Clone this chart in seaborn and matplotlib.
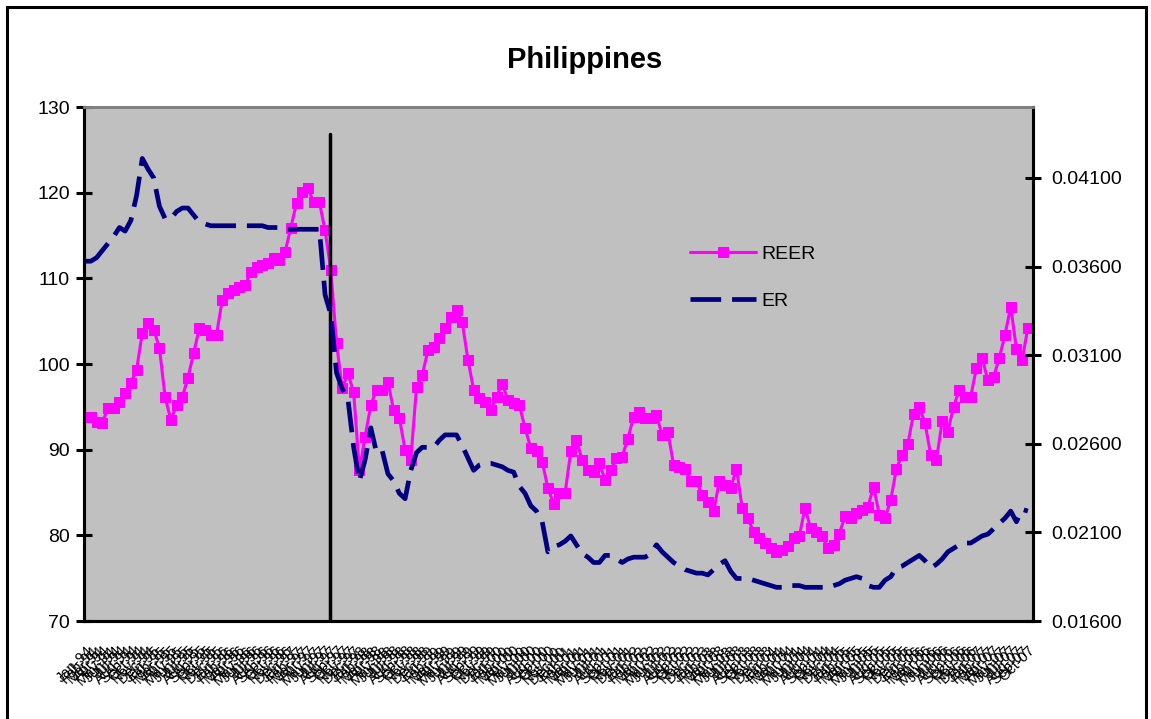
import numpy as np
import pandas as pd
import matplotlib
matplotlib.use("Agg")
import matplotlib.pyplot as plt
import seaborn as sns
from matplotlib.patches import Rectangle

# -----------------------------
# DATA (monthly, Jan-1994 onwards)
# -----------------------------
START_MONTH = "1994-01"

REER = [
    93.8, 93.8, 93.2, 93.1, 94.9, 94.9, 95.6, 96.6, 97.8, 99.3,
    103.6, 104.8, 104.0, 101.9, 96.1, 93.5, 95.2, 96.1, 98.4, 101.3,
    104.2, 104.0, 103.4, 103.4, 107.5, 108.3, 108.6, 109.0, 109.2, 110.7,
    111.3, 111.5, 111.8, 112.4, 112.1, 113.1, 115.9, 118.8, 120.1, 120.5,
    118.9, 118.9, 115.6, 111.0, 102.4, 97.2, 98.9, 96.7, 87.6, 91.5,
    95.2, 97.0, 97.0, 97.9, 94.6, 93.7, 90.0, 88.8, 97.3, 98.7,
    101.6, 102.0, 103.0, 104.2, 105.5, 106.3, 104.9, 100.5, 97.0, 96.0,
    95.6, 94.6, 96.2, 97.7, 95.8, 95.4, 95.2, 92.5, 90.2, 89.8,
    88.6, 85.5, 83.7, 84.9, 84.9, 89.8, 91.1, 88.8, 87.6, 87.4,
    88.4, 86.5, 87.6, 89.0, 89.2, 91.3, 93.8, 94.4, 93.7, 93.7,
    94.0, 91.7, 92.1, 88.2, 88.0, 87.8, 86.3, 86.3, 84.7, 83.9,
    82.8, 86.3, 85.9, 85.5, 87.8, 83.2, 82.0, 80.4, 79.7, 79.1,
    78.5, 78.1, 78.3, 78.7, 79.7, 79.9, 83.2, 80.8, 80.4, 79.9,
    78.5, 78.9, 80.2, 82.2, 82.0, 82.6, 83.0, 83.3, 85.7, 82.4,
    82.0, 84.1, 87.8, 89.4, 90.7, 94.2, 95.0, 93.1, 89.4, 88.8,
    93.3, 92.1, 95.0, 97.0, 96.2, 96.2, 99.5, 100.7, 98.1, 98.5,
    100.7, 103.4, 106.7, 101.8, 100.5, 104.2,
]

ER = [
    0.0363, 0.0363, 0.0365, 0.0369, 0.0373, 0.0377, 0.0382, 0.0380, 0.0386, 0.0400,
    0.0421, 0.0415, 0.0410, 0.0394, 0.0387, 0.0387, 0.0391, 0.0393, 0.0393, 0.0389,
    0.0385, 0.0384, 0.0383, 0.0383, 0.0383, 0.0383, 0.0383, 0.0383, 0.0383, 0.0383,
    0.0383, 0.0383, 0.0382, 0.0382, 0.0382, 0.0381, 0.0381, 0.0381, 0.0381, 0.0381,
    0.0381, 0.0381, 0.0344, 0.0333, 0.0300, 0.0291, 0.0285, 0.0258, 0.0239, 0.0251,
    0.0269, 0.0255, 0.0256, 0.0243, 0.0239, 0.0232, 0.0229, 0.0245, 0.0255, 0.0258,
    0.0258, 0.0258, 0.0262, 0.0265, 0.0265, 0.0265, 0.0259, 0.0252, 0.0245, 0.0248,
    0.0249, 0.0249, 0.0248, 0.0247, 0.0245, 0.0244, 0.0236, 0.0232, 0.0225, 0.0222,
    0.0216, 0.0199, 0.0202, 0.0203, 0.0205, 0.0208, 0.0203, 0.0198, 0.0196, 0.0193,
    0.0193, 0.0197, 0.0197, 0.0195, 0.0193, 0.0195, 0.0196, 0.0196, 0.0196, 0.0198,
    0.0203, 0.0199, 0.0196, 0.0193, 0.0191, 0.0189, 0.0188, 0.0187, 0.0187, 0.0186,
    0.0189, 0.0192, 0.0194, 0.0188, 0.0184, 0.0184, 0.0184, 0.0183, 0.0182, 0.0181,
    0.0180, 0.0179, 0.0179, 0.0180, 0.0180, 0.0180, 0.0179, 0.0179, 0.0179, 0.0179,
    0.0179, 0.0180, 0.0181, 0.0183, 0.0184, 0.0185, 0.0184, 0.0180, 0.0179, 0.0179,
    0.0183, 0.0185, 0.0190, 0.0191, 0.0193, 0.0195, 0.0197, 0.0194, 0.0190, 0.0192,
    0.0195, 0.0199, 0.0201, 0.0203, 0.0204, 0.0204, 0.0206, 0.0208, 0.0209, 0.0212,
    0.0215, 0.0218, 0.0222, 0.0216, 0.0223, 0.0222,
]

CRISIS_POS = 42.8          # vertical marker (mid-1997)
LEFT_TICKS = [70, 80, 90, 100, 110, 120, 130]
RIGHT_TICKS = [0.016, 0.021, 0.026, 0.031, 0.036, 0.041]

# -----------------------------
# STYLE
# -----------------------------
sns.set_theme(style="white")
plt.rcParams["font.family"] = ["Liberation Sans", "DejaVu Sans"]
plt.rcParams["text.color"] = "black"
plt.rcParams["xtick.color"] = "black"
plt.rcParams["ytick.color"] = "black"

REER_COLOR = "#FF00FF"
ER_COLOR = "#000080"
PLOT_BG = "#C0C0C0"

months = pd.date_range(START_MONTH, periods=len(REER), freq="MS")
month_labels = [m.strftime("%b-%y") for m in months]
df = pd.DataFrame({"idx": np.arange(len(REER)), "REER": REER, "ER": ER})

# -----------------------------
# PLOT
# -----------------------------
fig = plt.figure(figsize=(11.51, 7.19), dpi=100)
ax = fig.add_axes([84 / 1151, 1 - 621 / 719, (1033 - 84) / 1151, (621 - 107) / 719])
ax.set_facecolor(PLOT_BG)

sns.lineplot(data=df, x="idx", y="REER", ax=ax, color=REER_COLOR, lw=2.2,
             marker="s", markersize=7, markeredgecolor=REER_COLOR,
             label="REER", legend=False)
ax.plot([CRISIS_POS, CRISIS_POS], [70, 126.8], color="black", lw=2.5)

ax2 = ax.twinx()
sns.lineplot(data=df, x="idx", y="ER", ax=ax2, color=ER_COLOR, lw=3.4,
             linestyle=(0, (6.5, 2.3)), label="ER", legend=False)

ax.set_xlim(-0.2, len(REER) - 0.1)
ax.set_ylim(70, 130)
ax2.set_ylim(0.016, 0.045)

ax.set_yticks(LEFT_TICKS)
ax.set_yticklabels([str(t) for t in LEFT_TICKS], fontsize=14, color="black")
ax2.set_yticks(RIGHT_TICKS)
ax2.set_yticklabels([f"{t:.5f}" for t in RIGHT_TICKS], fontsize=14, color="black")

ax.set_xticks(df["idx"])
ax.set_xticklabels(month_labels, rotation=45, ha="right", fontsize=10.5,
                   rotation_mode="anchor", color="black")
ax.set_xlabel("")
ax.set_ylabel("")
ax2.set_ylabel("")

ax.tick_params(axis="y", direction="inout", length=12, width=2.2, pad=4)
ax2.tick_params(axis="y", direction="inout", length=12, width=2.2, pad=7)
ax.tick_params(axis="x", direction="in", length=6, width=1.5, pad=16)

for a in (ax, ax2):
    for side in ("left", "bottom", "right"):
        a.spines[side].set_color("black")
        a.spines[side].set_linewidth(2.2)
    a.spines["top"].set_color("#808080")
    a.spines["top"].set_linewidth(2)

# legend from both axes
h1, l1 = ax.get_legend_handles_labels()
h2, l2 = ax2.get_legend_handles_labels()
ax2.legend(h1 + h2, l1 + l2, loc="upper left", bbox_to_anchor=(0.62, 0.765),
           frameon=False, fontsize=14, handlelength=3.4, labelspacing=1.5,
           handletextpad=0.3, labelcolor="black")

fig.text(0.508, 0.917, "Philippines", ha="center", va="center",
         fontsize=21, fontweight="bold", color="black")

# outer chart border
fig.patches.append(Rectangle((7 / 1151, -0.02), 1139 / 1151, 1 - 7 / 719 + 0.02,
                             transform=fig.transFigure, fill=False,
                             edgecolor="black", lw=2.2))

fig.savefig("out.png", dpi=100)
